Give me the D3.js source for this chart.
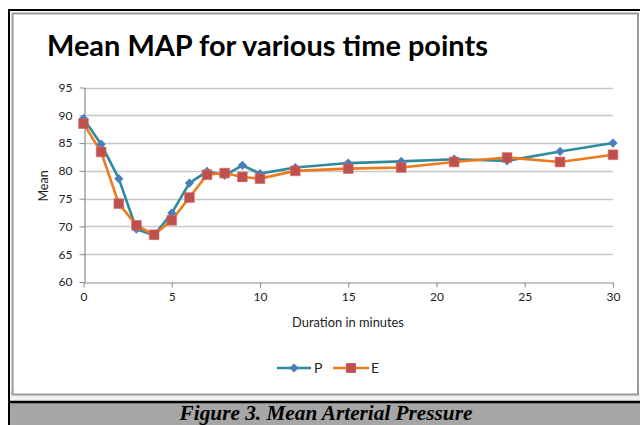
<!DOCTYPE html>
<html><head><meta charset="utf-8">
<script src="https://cdn.jsdelivr.net/npm/d3@7"></script>
<style>html,body{margin:0;padding:0;background:#fff;}svg{display:block;}</style>
</head><body>
<svg id="chart" width="640" height="425"></svg>
<script>
const minutes = [0,1,2,3,4,5,6,7,8,9,10,12,15,18,21,24,27,30];
const seriesP = [89.4,84.8,78.6,69.5,68.4,72.4,77.8,79.9,79.2,81.0,79.5,80.6,81.4,81.7,82.1,81.8,83.5,85.0];
const seriesE = [88.5,83.4,74.1,70.2,68.5,71.1,75.2,79.3,79.6,78.9,78.6,80.0,80.4,80.6,81.6,82.4,81.6,82.9];
const xTicks = [0,5,10,15,20,25,30];
const yTicks = [60,65,70,75,80,85,90,95];
const seriesNames = ["P","E"];
const titleText = "Mean MAP for various time points";
const xTitle = "Duration in minutes";
const yTitle = "Mean";
const captionText = "Figure 3. Mean Arterial Pressure";

const svg = d3.select("#chart");
const font = "Lato, 'Open Sans', sans-serif";

// frame
svg.append("rect").attr("x",9).attr("y",390).attr("width",640).attr("height",12).attr("fill","#f0f0f0");
svg.append("rect").attr("x",12.5).attr("y",13.5).attr("width",625.5).attr("height",381).attr("fill","#fff").attr("stroke","#9a9a9a").attr("stroke-width",2);
svg.append("line").attr("x1",8).attr("x2",640).attr("y1",10).attr("y2",10).attr("stroke","#000").attr("stroke-width",2);
svg.append("rect").attr("x",8).attr("y",403).attr("width",632).attr("height",22).attr("fill","#a6a6a6");
svg.append("line").attr("x1",8).attr("x2",640).attr("y1",402).attr("y2",402).attr("stroke","#000").attr("stroke-width",2.5);
svg.append("line").attr("x1",9).attr("x2",9).attr("y1",9).attr("y2",425).attr("stroke","#000").attr("stroke-width",2);

const x = d3.scaleLinear().domain([0,30]).range([83.5,613]);
const y = d3.scaleLinear().domain([60,95]).range([282,87.5]);

// gridlines
svg.append("g").selectAll("line").data(yTicks.filter(d=>d>60)).join("line")
  .attr("x1",x(0)).attr("x2",x(30)).attr("y1",d=>Math.round(y(d))+0.5).attr("y2",d=>Math.round(y(d))+0.5)
  .attr("stroke","#c8c8c8").attr("stroke-width",1.3);

// axes
const xAxis = svg.append("g").attr("transform",`translate(0,${Math.round(y(60))+0.5})`)
  .call(d3.axisBottom(x).tickValues(xTicks).tickSize(5).tickSizeOuter(0).tickPadding(5));
const yAxis = svg.append("g").attr("transform",`translate(${Math.round(x(0))+0.5},0)`)
  .call(d3.axisLeft(y).tickValues(yTicks).tickSize(5).tickSizeOuter(0).tickPadding(7));
[xAxis,yAxis].forEach(a=>{
  a.select(".domain").attr("stroke","#8c8c8c").attr("stroke-width",1.2);
  a.selectAll(".tick line").attr("stroke","#8c8c8c");
  a.selectAll(".tick text").attr("font-family",font).attr("font-size",12).attr("fill","#222");
});

// lines
const colors = {P:{line:"#2f8a9c",mark:"#4a7ebb"},E:{line:"#ee7a1c",mark:"#c0504d"}};
const data = {P:seriesP,E:seriesE};
const lineGen = d3.line().x((d,i)=>x(minutes[i])).y(d=>y(d));
const square = d3.symbol().type(d3.symbolSquare).size(95);

seriesNames.forEach(name=>{
  svg.append("path").datum(data[name]).attr("d",lineGen).attr("fill","none")
    .attr("stroke",colors[name].line).attr("stroke-width",2.6).attr("stroke-linejoin","round");
});
svg.append("g").selectAll("path").data(seriesP).join("path")
  .attr("transform",(d,i)=>`translate(${x(minutes[i])},${y(d)}) rotate(45)`)
  .attr("d",d3.symbol().type(d3.symbolSquare).size(42)).attr("fill",colors.P.mark);
svg.append("g").selectAll("path").data(seriesE).join("path")
  .attr("transform",(d,i)=>`translate(${x(minutes[i])},${y(d)})`)
  .attr("d",square).attr("fill",colors.E.mark).attr("stroke","#d46a67").attr("stroke-width",0.6);

// titles
function fit(t, target){
  const w = t.node().getComputedTextLength();
  const fs = parseFloat(t.attr("font-size"));
  t.attr("font-size", fs*target/w);
}
const tt = svg.append("text").attr("x",47).attr("y",56).text(titleText)
  .attr("font-family",font).attr("font-weight","bold").attr("font-size",26).attr("fill","#000");
fit(tt,441);
const xt = svg.append("text").attr("x",348).attr("y",327).attr("text-anchor","middle").text(xTitle)
  .attr("font-family",font).attr("font-size",12).attr("fill","#222");
fit(xt,112);
svg.append("text").attr("transform","translate(48,186) rotate(-90)").attr("text-anchor","middle").text(yTitle)
  .attr("font-family",font).attr("font-size",12.5).attr("fill","#222");

// legend
const leg = svg.append("g");
const legItems = [{n:"P",x0:277,x1:311,mx:294,tx:314},{n:"E",x0:333,x1:369,mx:351,tx:371}];
legItems.forEach(it=>{
  leg.append("line").attr("x1",it.x0).attr("x2",it.x1).attr("y1",368).attr("y2",368)
    .attr("stroke",colors[it.n].line).attr("stroke-width",2.6);
  if(it.n==="P"){
    leg.append("path").attr("transform",`translate(${it.mx},368) rotate(45)`)
      .attr("d",d3.symbol().type(d3.symbolSquare).size(42)).attr("fill",colors.P.mark);
  } else {
    leg.append("path").attr("transform",`translate(${it.mx},368)`).attr("d",square).attr("fill",colors.E.mark);
  }
  leg.append("text").attr("x",it.tx).attr("y",373).text(it.n)
    .attr("font-family",font).attr("font-size",14).attr("fill","#222");
});

// caption
const cap = svg.append("text").attr("x",326).attr("y",420).attr("text-anchor","middle").text(captionText)
  .attr("font-family","'Liberation Serif', serif").attr("font-weight","bold").attr("font-style","italic")
  .attr("font-size",18).attr("fill","#000");
fit(cap,293);
</script>
</body></html>
